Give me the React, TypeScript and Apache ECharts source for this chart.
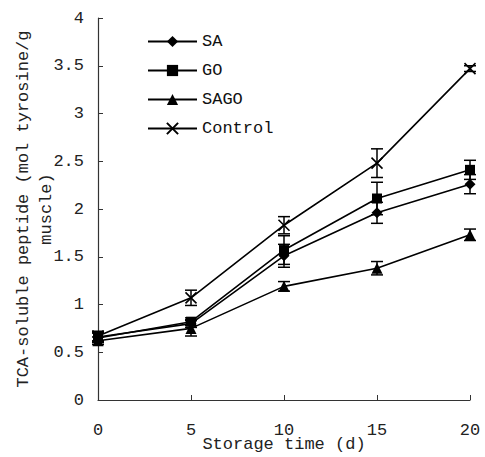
import React, { useEffect, useRef } from "react";
import * as echarts from "echarts";

const days = [0, 5, 10, 15, 20];
const seriesNames = ["SA", "GO", "SAGO", "Control"];
const saValues = [0.66, 0.8, 1.51, 1.96, 2.26];
const saErr = [0.05, 0.04, 0.12, 0.11, 0.1];
const goValues = [0.65, 0.82, 1.57, 2.11, 2.41];
const goErr = [0.05, 0.04, 0.15, 0.17, 0.1];
const sagoValues = [0.62, 0.75, 1.19, 1.38, 1.73];
const sagoErr = [0.04, 0.08, 0.05, 0.07, 0.06];
const controlValues = [0.67, 1.07, 1.83, 2.48, 3.47];
const controlErr = [0.05, 0.08, 0.09, 0.15, 0.03];

const FONT = "'Liberation Mono', 'DejaVu Sans Mono', monospace";
const CROSS = "path://M0,0L10,10M10,0L0,10";

export default function App() {
  const ref = useRef<HTMLDivElement>(null);
  useEffect(() => {
    document.body.style.margin = "0";
    if (!ref.current) return;
    const chart = echarts.init(ref.current, undefined, { renderer: "svg" });
    const valuesList = [saValues, goValues, sagoValues, controlValues];
    const errList = [saErr, goErr, sagoErr, controlErr];
    const symbols = ["diamond", "rect", "triangle", CROSS];
    const sizes = [11, 10, 11, 11];

    const lineSeries = seriesNames.map((name, i) => ({
      name,
      type: "line",
      data: days.map((d, j) => [d, valuesList[i][j]]),
      symbol: symbols[i],
      symbolSize: sizes[i],
      symbolKeepAspect: true,
      lineStyle: { color: "#000", width: 1.6 },
      itemStyle:
        i === 3
          ? { color: "#000", borderColor: "#000", borderWidth: 1.6 }
          : { color: "#000" },
      z: 3,
    }));

    const errData: number[][] = [];
    valuesList.forEach((vals, i) => {
      vals.forEach((v, j) => {
        errData.push([days[j], v - errList[i][j], v + errList[i][j]]);
      });
    });

    const errSeries = {
      type: "custom",
      name: "err",
      data: errData,
      z: 2,
      renderItem: (params: any, api: any) => {
        const x = api.value(0);
        const lo = api.coord([x, api.value(1)]);
        const hi = api.coord([x, api.value(2)]);
        const w = 6;
        const style = { stroke: "#000", lineWidth: 1.5 };
        return {
          type: "group",
          children: [
            { type: "line", shape: { x1: lo[0], y1: lo[1], x2: hi[0], y2: hi[1] }, style },
            { type: "line", shape: { x1: lo[0] - w, y1: lo[1], x2: lo[0] + w, y2: lo[1] }, style },
            { type: "line", shape: { x1: hi[0] - w, y1: hi[1], x2: hi[0] + w, y2: hi[1] }, style },
          ],
        };
      },
    };

    chart.setOption({
      animation: false,
      backgroundColor: "#fff",
      grid: { left: 98, right: 15, top: 18, bottom: 57, outerBoundsMode: "none", containLabel: false },
      legend: {
        data: seriesNames,
        orient: "vertical",
        left: 147,
        top: 33,
        padding: 0,
        itemWidth: 49,
        itemHeight: 14,
        itemGap: 12,
        textStyle: { fontFamily: FONT, fontSize: 17, color: "#111" },
      },
      xAxis: {
        type: "value",
        min: 0,
        max: 20,
        interval: 5,
        name: "Storage time (d)",
        nameLocation: "middle",
        nameGap: 36,
        nameMoveOverlap: false,
        nameTextStyle: { fontFamily: FONT, fontSize: 17, color: "#222" },
        axisLine: { lineStyle: { color: "#333", width: 1.2 } },
        axisTick: { inside: true, length: 5, lineStyle: { color: "#333" } },
        axisLabel: { margin: 22, fontFamily: FONT, fontSize: 17, color: "#222" },
        splitLine: { show: false },
      },
      yAxis: {
        type: "value",
        min: 0,
        max: 4,
        interval: 0.5,
        name: "TCA-soluble peptide (mol tyrosine/g\nmuscle)",
        nameLocation: "middle",
        nameGap: 40,
        nameMoveOverlap: false,
        nameTextStyle: { fontFamily: FONT, fontSize: 17, color: "#222", lineHeight: 23 },
        axisLine: { show: true, lineStyle: { color: "#333", width: 1.2 } },
        axisTick: { show: true, inside: true, length: 5, lineStyle: { color: "#333" } },
        axisLabel: { margin: 14, fontFamily: FONT, fontSize: 17, color: "#222" },
        splitLine: { show: false },
      },
      series: [errSeries, ...lineSeries],
    });
    return () => chart.dispose();
  }, []);
  return <div ref={ref} style={{ width: 485, height: 457 }} />;
}
